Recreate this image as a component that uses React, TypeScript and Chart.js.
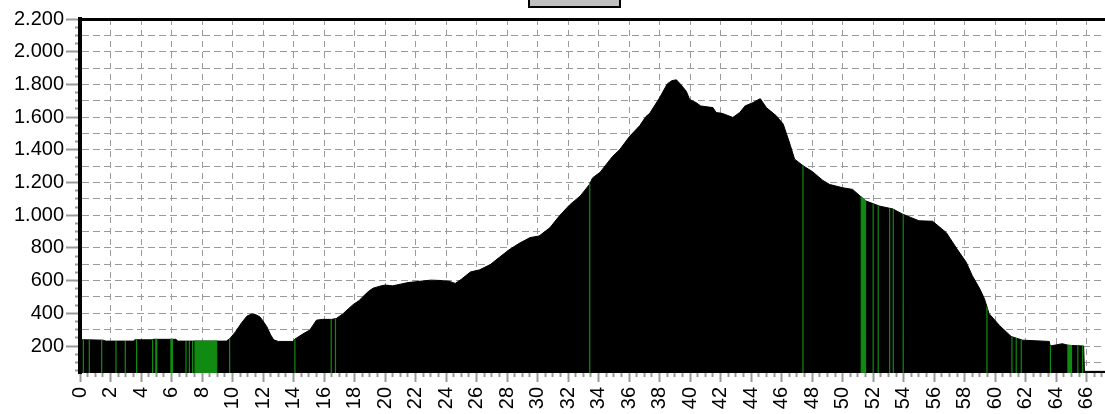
import React, { useEffect, useRef } from 'react';
import { Chart, registerables } from 'chart.js';

Chart.register(...registerables);

// Elevation profile: distance (km) and elevation (m)
const profileKm = [
  0, 0.5, 1.5, 1.7, 3.5, 3.6, 4.7, 4.8, 6.3, 6.4, 9.6, 9.85, 10.2, 10.6, 10.95, 11.25, 11.5, 11.8, 12.0, 12.25,
  12.5, 12.7, 13.0, 13.95, 14.1, 14.6, 15.07, 15.5, 15.9, 16.5, 16.8, 17.25, 17.6, 17.9, 18.3, 18.56, 18.9, 19.2,
  19.66, 20.0, 20.5, 21.0, 21.5, 22.3, 23.0, 23.6, 24.2, 24.6, 25.0, 25.6, 26.2, 26.9, 27.5, 28.2, 28.8, 29.5,
  30.1, 30.8, 31.45, 32.1, 32.8, 33.4, 33.6, 34.1, 34.9, 35.4, 36.04, 36.7, 37.1, 37.35, 38.0, 38.5, 38.8, 39.1,
  39.4, 39.75, 39.97, 40.4, 40.7, 41.5, 41.7, 42.1, 42.8, 43.25, 43.6, 44.1, 44.6, 45.0, 45.65, 46.1, 46.5, 46.85,
  47.4, 48.0, 48.7, 49.15, 50.0, 50.65, 51.5, 52.4, 53.3, 53.9, 55.0, 55.9, 56.8, 57.5, 58.1, 58.5, 59.0, 59.3,
  59.6, 60.3, 61.05, 61.8, 63.55, 63.6, 64.4, 64.8, 65.8, 65.85, 67.2,
];
const profileElev = [
  238, 238, 236, 230, 230, 238, 238, 241, 241, 230, 230, 248, 288, 343, 383, 396, 393, 378, 353, 318,
  268, 238, 228, 228, 243, 273, 298, 358, 363, 363, 368, 398, 428, 453, 478, 503, 533, 553,
  566, 573, 568, 578, 588, 596, 603, 601, 596, 583, 608, 653, 666, 698, 743, 793, 828, 863,
  873, 923, 998, 1063, 1118, 1188, 1228, 1263, 1358, 1403, 1483, 1548, 1603, 1623, 1718, 1803, 1823, 1828,
  1798, 1758, 1708, 1688, 1668, 1658, 1628, 1623, 1598, 1628, 1668, 1688, 1713, 1658, 1608, 1558, 1448, 1343,
  1303, 1268, 1213, 1188, 1168, 1158, 1088, 1056, 1038, 1008, 966, 963, 893, 793, 713, 630, 548, 488,
  398, 324, 258, 236, 228, 200, 214, 204, 200, 45, 45,
];

// Green marked sections (km from / to)
const greenStart = [
  0.22, 0.61, 1.42, 2.36, 2.97, 3.71, 4.76, 4.97, 5.96, 6.95, 7.17, 7.38, 7.54, 9.81, 14.09, 16.47, 16.75,
  33.42, 47.4, 51.22, 52.0, 52.33, 53.08, 53.32, 53.97, 59.46, 61.1, 61.38, 61.71, 63.62, 64.77, 65.42, 65.73,
];
const greenEnd = [
  0.22, 0.61, 1.42, 2.36, 2.97, 3.71, 4.76, 5.03, 6.06, 6.95, 7.17, 7.38, 8.96, 9.81, 14.09, 16.47, 16.75,
  33.42, 47.4, 51.5, 52.0, 52.33, 53.08, 53.32, 53.97, 59.46, 61.1, 61.38, 61.71, 63.62, 65.0, 65.42, 65.73,
];

// Axis ticks
const xLabelValues = [0, 2, 4, 6, 8, 10, 12, 14, 16, 18, 20, 22, 24, 26, 28, 30, 32, 34, 36, 38, 40, 42, 44, 46, 48, 50, 52, 54, 56, 58, 60, 62, 64, 66];
const yLabelValues = [200, 400, 600, 800, 1000, 1200, 1400, 1600, 1800, 2000, 2200];

const X_MIN = 0;
const X_MAX = 67.2;
const Y_MIN = 35;
const Y_MAX = 2200;

function elevAt(km: number): number {
  for (let i = 0; i < profileKm.length - 1; i++) {
    const a = profileKm[i];
    const b = profileKm[i + 1];
    if (km >= a && km <= b) {
      const t = b === a ? 0 : (km - a) / (b - a);
      return profileElev[i] + t * (profileElev[i + 1] - profileElev[i]);
    }
  }
  return profileElev[profileElev.length - 1];
}

function fmtThousands(v: number): string {
  if (v >= 1000) {
    const th = Math.floor(v / 1000);
    const rest = String(v % 1000).padStart(3, '0');
    return th + '.' + rest;
  }
  return String(v);
}

const FONT = "'Liberation Sans', Arial, sans-serif";
const GRID = '#9a9a9a';
const GREEN = '#118a11';

export default function App() {
  const ref = useRef<HTMLCanvasElement>(null);

  useEffect(() => {
    if (!ref.current) return;

    const profile = profileKm.map((x, i) => ({ x, y: profileElev[i] }));
    const green: { x: number; y: number }[] = [];
    greenStart.forEach((s, i) => {
      const e = greenEnd[i];
      green.push({ x: s, y: 0 }, { x: s, y: elevAt(s) }, { x: e, y: elevAt(e) }, { x: e, y: 0 });
    });

    const xTicks: number[] = [];
    for (let v = 0; v <= 67; v += 0.5) xTicks.push(v);
    const yTicks: number[] = [];
    for (let v = 50; v <= Y_MAX; v += 50) yTicks.push(v);

    const chart = new Chart(ref.current, {
      type: 'line',
      data: {
        datasets: [
          {
            label: 'green',
            data: green,
            borderColor: GREEN,
            backgroundColor: GREEN,
            borderWidth: 1.2,
            pointRadius: 0,
            fill: 'start',
            tension: 0,
          },
          {
            label: 'profile',
            data: profile,
            borderColor: '#000000',
            backgroundColor: '#000000',
            borderWidth: 1,
            pointRadius: 0,
            fill: 'start',
            tension: 0,
          },
        ],
      },
      options: {
        animation: false,
        responsive: false,
        devicePixelRatio: 1,
        layout: { padding: 0 },
        plugins: {
          legend: { display: false },
          tooltip: { enabled: false },
          title: { display: false },
        },
        scales: {
          x: {
            type: 'linear',
            position: 'bottom',
            min: X_MIN,
            max: X_MAX,
            afterBuildTicks: (s: any) => {
              s.ticks = xTicks.map((value) => ({ value }));
            },
            afterFit: (s: any) => {
              s.height = 41;
              s.paddingLeft = 0;
              s.paddingRight = 0;
            },
            ticks: {
              autoSkip: false,
              minRotation: 90,
              maxRotation: 90,
              padding: 5,
              color: '#000',
              font: { family: FONT, size: 20 },
              callback: (v: any) => (xLabelValues.includes(Number(v)) ? String(v) : ''),
            },
            grid: {
              color: (ctx: any) => (ctx.tick && xLabelValues.includes(ctx.tick.value) ? GRID : 'rgba(0,0,0,0)'),
              lineWidth: 1,
              tickColor: GRID,
              tickWidth: 2,
              tickLength: 9,
              tickBorderDash: (ctx: any) => (ctx.tick && xLabelValues.includes(ctx.tick.value) ? [] : [4, 30]),
            },
            border: { display: false, dash: [6, 5] },
          },
          x2: {
            type: 'linear',
            position: 'top',
            min: X_MIN,
            max: X_MAX,
            afterFit: (s: any) => {
              s.height = 19;
              s.paddingLeft = 0;
              s.paddingRight = 0;
            },
            ticks: { display: false },
            grid: { display: false, drawTicks: false },
            border: { display: true, color: '#000', width: 3 },
          },
          y: {
            type: 'linear',
            position: 'left',
            min: Y_MIN,
            max: Y_MAX,
            afterBuildTicks: (s: any) => {
              s.ticks = yTicks.map((value) => ({ value }));
            },
            afterFit: (s: any) => {
              s.width = 80;
              s.paddingTop = 0;
              s.paddingBottom = 0;
            },
            ticks: {
              autoSkip: false,
              padding: 2,
              color: '#000',
              font: { family: FONT, size: 20 },
              callback: (v: any) => (yLabelValues.includes(Number(v)) ? fmtThousands(Number(v)) : ''),
            },
            grid: {
              color: (ctx: any) => (ctx.tick && ctx.tick.value % 100 === 0 ? GRID : 'rgba(0,0,0,0)'),
              lineWidth: 1,
              tickColor: GRID,
              tickWidth: 2,
              tickLength: 14,
              tickBorderDash: (ctx: any) => (ctx.tick && yLabelValues.includes(ctx.tick.value) ? [] : [0, 9, 5, 40]),
            },
            border: { display: true, color: '#000', width: 4, dash: [7, 4] },
          },
        },
      },
    });

    return () => chart.destroy();
  }, []);

  return (
    <div style={{ position: 'absolute', left: 0, top: 0, width: 1105, height: 414, overflow: 'hidden', background: '#fff' }}>
      <canvas ref={ref} width={1105} height={414} style={{ display: 'block' }} />
      <div
        style={{
          position: 'absolute',
          left: 528,
          top: -10,
          width: 93,
          height: 18,
          boxSizing: 'border-box',
          border: '2px solid #000',
          background: '#c0c0c0',
        }}
      />
    </div>
  );
}
